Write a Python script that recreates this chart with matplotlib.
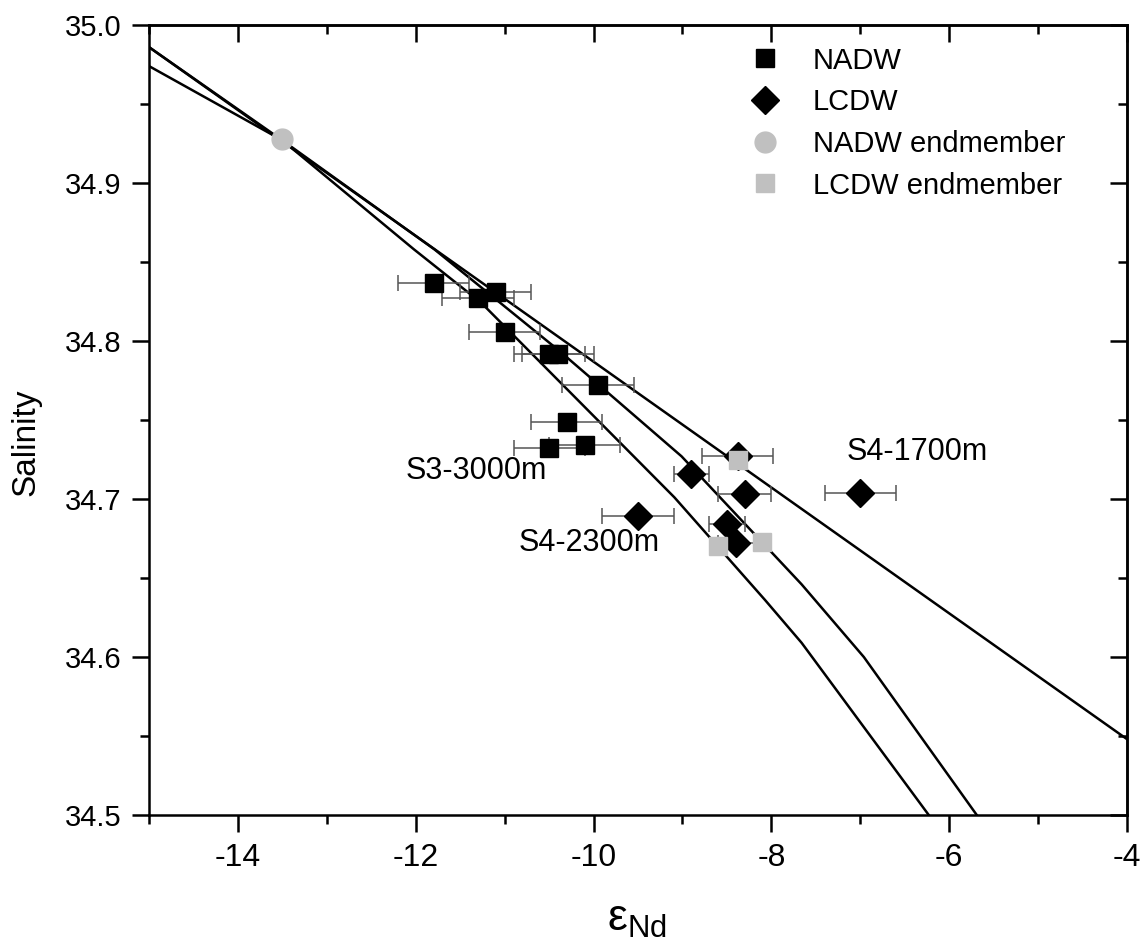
import matplotlib
matplotlib.use("Agg")
import matplotlib.pyplot as plt
from matplotlib.ticker import MultipleLocator, FormatStrFormatter

plt.rcParams['font.family'] = ['Liberation Sans', 'DejaVu Sans']
plt.rcParams['mathtext.fontset'] = 'custom'
plt.rcParams['mathtext.rm'] = 'Liberation Sans'
plt.rcParams['mathtext.it'] = 'Liberation Sans:italic'

# NADW samples
nadw_x = [-11.8, -11.3, -11.1, -11.0, -10.5, -10.4, -9.95, -10.3, -10.5, -10.1]
nadw_y = [34.837, 34.827, 34.831, 34.806, 34.792, 34.792, 34.772, 34.749, 34.732, 34.734]
nadw_err = [0.4, 0.4, 0.4, 0.4, 0.4, 0.4, 0.4, 0.4, 0.4, 0.4]

# LCDW samples
lcdw_x = [-8.9, -8.3, -9.5, -8.5, -8.4, -8.38, -7.0]
lcdw_y = [34.716, 34.703, 34.689, 34.684, 34.672, 34.727, 34.704]
lcdw_err = [0.2, 0.3, 0.4, 0.2, 0.2, 0.4, 0.4]

# endmembers
nadw_em_x = [-13.5]
nadw_em_y = [34.928]
lcdw_em_x = [-8.38, -8.6, -8.1]
lcdw_em_y = [34.725, 34.670, 34.673]

# mixing lines
line_a_x = [-15.0, -4.0]
line_a_y = [34.986, 34.548]
line_b_x = [-15.0, -13.5, -11.79, -10.39, -9.75, -9.01, -7.66, -6.96, -5.69]
line_b_y = [34.986, 34.927, 34.858, 34.794, 34.763, 34.727, 34.646, 34.600, 34.500]
line_c_x = [-15.0, -13.5, -12.02, -11.26, -10.36, -9.09, -8.07, -7.66, -6.23]
line_c_y = [34.974, 34.927, 34.858, 34.824, 34.773, 34.701, 34.636, 34.609, 34.500]

labels = ["S3-3000m", "S4-2300m", "S4-1700m"]
label_x = [-12.11, -10.84, -7.15]
label_y = [34.718, 34.672, 34.730]

fig = plt.figure(figsize=(11.46, 9.42), dpi=100)
ax = fig.add_axes([149 / 1146, 127 / 942, 978 / 1146, 790 / 942])

for lx, ly in [(line_a_x, line_a_y), (line_b_x, line_b_y), (line_c_x, line_c_y)]:
    ax.plot(lx, ly, color='black', lw=1.8, zorder=2)

ax.errorbar(nadw_x, nadw_y, xerr=nadw_err, fmt='none', ecolor='#555555',
            elinewidth=1.1, capsize=5.5, capthick=1.1, zorder=3)
ax.errorbar(lcdw_x, lcdw_y, xerr=lcdw_err, fmt='none', ecolor='#555555',
            elinewidth=1.1, capsize=5.5, capthick=1.1, zorder=3)

ax.plot(nadw_x, nadw_y, 's', color='black', ms=13, ls='none', zorder=4, label='NADW')
ax.plot(lcdw_x, lcdw_y, 'D', color='black', ms=14, ls='none', zorder=4, label='LCDW')
ax.plot(nadw_em_x, nadw_em_y, 'o', color='#c0c0c0', ms=15, ls='none', zorder=5,
        label='NADW endmember')
ax.plot(lcdw_em_x, lcdw_em_y, 's', color='#c0c0c0', ms=13, ls='none', zorder=5,
        label='LCDW endmember')

for t, tx, ty in zip(labels, label_x, label_y):
    ax.text(tx, ty, t, fontsize=22, ha='left', va='center', zorder=6)

ax.set_xlim(-15, -4)
ax.set_ylim(34.5, 35.0)
ax.xaxis.set_major_locator(MultipleLocator(2))
ax.xaxis.set_minor_locator(MultipleLocator(1))
ax.yaxis.set_major_locator(MultipleLocator(0.1))
ax.yaxis.set_minor_locator(MultipleLocator(0.05))
ax.yaxis.set_major_formatter(FormatStrFormatter('%.1f'))
ax.xaxis.set_major_formatter(FormatStrFormatter('%d'))

for s in ax.spines.values():
    s.set_linewidth(1.8)

ax.tick_params(which='major', direction='out', length=12, width=1.8, labelsize=21, pad=8)
ax.tick_params(which='minor', direction='out', length=6.5, width=1.8)
ax.tick_params(axis='x', which='major', labelsize=23)

# top and right: inward ticks without labels
top = ax.secondary_xaxis('top')
top.xaxis.set_major_locator(MultipleLocator(2))
top.xaxis.set_minor_locator(MultipleLocator(1))
top.tick_params(which='major', direction='in', length=12, width=1.8, labeltop=False)
top.tick_params(which='minor', direction='in', length=6.5, width=1.8)
top.spines['top'].set_linewidth(1.8)
right = ax.secondary_yaxis('right')
right.yaxis.set_major_locator(MultipleLocator(0.1))
right.yaxis.set_minor_locator(MultipleLocator(0.05))
right.tick_params(which='major', direction='in', length=12, width=1.8, labelright=False)
right.tick_params(which='minor', direction='in', length=6.5, width=1.8)
right.spines['right'].set_linewidth(1.8)

ax.legend(loc='upper left', bbox_to_anchor=(0.588, 1.006), frameon=False,
          fontsize=21, handlelength=1.0, handletextpad=1.15, labelspacing=0.47,
          borderpad=0.4, numpoints=1)

fig.text(26 / 1146, 1 - 442 / 942, 'Salinity', rotation=90, fontsize=24,
         ha='center', va='center')
fig.text(637 / 1146, 1 - 920 / 942, r'ε$_{\mathrm{Nd}}$', fontsize=32,
         ha='center', va='center')

fig.savefig('out.png', dpi=100)
